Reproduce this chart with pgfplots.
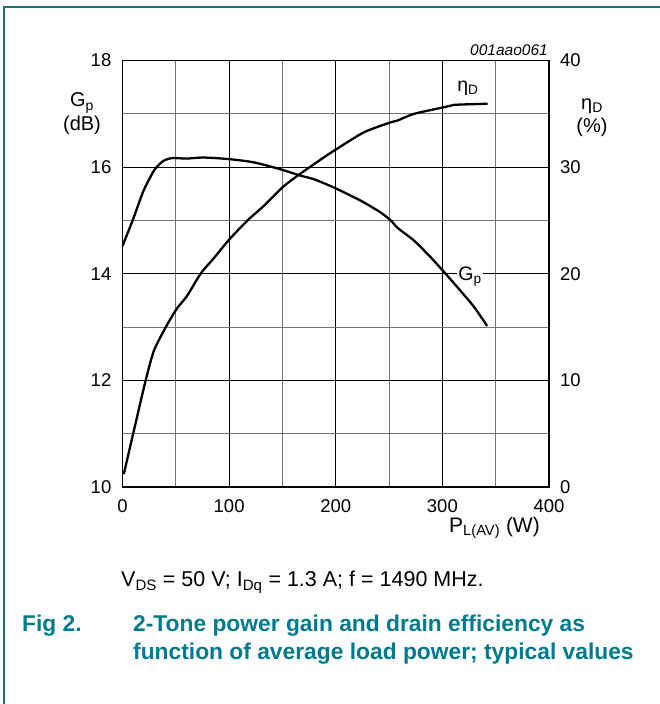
\documentclass[border=0pt]{standalone}
\usepackage{fontspec}
\setmainfont{Liberation Sans}
\usepackage{pgfplots}
\pgfplotsset{compat=1.18}
\definecolor{capteal}{RGB}{0,122,140}
\definecolor{frameteal}{RGB}{30,108,128}
\pgfplotstableread{
P G
0 14.52
9.5 15.0
19.8 15.56
30 15.95
38.6 16.12
47 16.17
60 16.16
76 16.18
100 16.15
123 16.09
148 15.96
167 15.84
180 15.77
199 15.61
223.5 15.37
242 15.15
251.6 15.0
258 14.86
273.5 14.62
289 14.31
301.7 14.03
317 13.68
330 13.37
342 13.02
}\gpdata
\pgfplotstableread{
P E
1.2 1.2
10.6 5.26
21.6 9.95
29.4 12.77
40.4 14.96
50.7 16.69
60.6 17.93
73.2 20.0
86 21.5
100 23.2
117 24.98
132.7 26.38
150 28.1
165.6 29.3
184.3 30.6
198.5 31.55
226.5 33.27
251.6 34.2
258 34.37
273.5 35.0
301.7 35.62
311 35.84
342.4 35.94
}\etadata
\begin{document}
\begin{tikzpicture}[x=1bp,y=1bp]
\path[use as bounding box] (0,0) rectangle (660,704);
\draw[frameteal, line width=1.5bp] (4,0) -- (4,697) -- (660,697);
\pgfplotsset{
  common/.style={
    at={(122.5bp,217bp)}, anchor=south west, scale only axis,
    width=426.5bp, height=426.5bp,
    xmin=0, xmax=400,
    major tick length=0, minor tick length=0,
    axis line style={line width=1.2bp},
    tick label style={font=\fontsize{18.5bp}{18.5bp}\selectfont, /pgf/number format/assume math mode=true, inner sep=0pt},
  }
}
\begin{axis}[common,
  ymin=10, ymax=18,
  xtick={0,100,200,300,400}, minor xtick={50,150,250,350},
  ytick={10,12,14,16,18}, minor ytick={11,13,15,17},
  grid=both,
  major grid style={black, line width=1.1bp},
  minor grid style={black!55, line width=1.1bp},
  xticklabel style={yshift=-12bp},
  yticklabel style={xshift=-11bp},
  axis y line*=left,
]
\node[fill=white, inner sep=1bp, font=\fontsize{19.5bp}{19.5bp}\selectfont] at (axis cs:326,13.95) {G\textsubscript{p}};
\node[font=\fontsize{19.5bp}{19.5bp}\selectfont] at (axis cs:324,17.48) {η\textsubscript{D}};
\addplot[black, line width=2.3bp, smooth, tension=0.4] table[x=P,y=G]{\gpdata};
\end{axis}
\begin{axis}[common,
  ymin=0, ymax=40,
  ytick={0,10,20,30,40},
  axis y line*=right, axis x line=none,
  yticklabel style={xshift=11bp},
]
\addplot[black, line width=2.3bp, smooth, tension=0.4] table[x=P,y=E]{\etadata};
\end{axis}
\draw[black, line width=1.2bp] (122.5,217) rectangle (549,643.5);
\node[anchor=east, font=\itshape\fontsize{15.5bp}{15.5bp}\selectfont, inner sep=0pt] at (548,654) {001aao061};
\node[font=\fontsize{20bp}{20bp}\selectfont, inner sep=0pt] at (82,601) {G\textsubscript{p}};
\node[font=\fontsize{20bp}{20bp}\selectfont, inner sep=0pt] at (82,579) {(dB)};
\node[font=\fontsize{20bp}{20bp}\selectfont, inner sep=0pt] at (592,598) {η\textsubscript{D}};
\node[font=\fontsize{20bp}{20bp}\selectfont, inner sep=0pt] at (592,577) {(\%)};
\node[anchor=east, font=\fontsize{21bp}{21bp}\selectfont, inner sep=0pt] at (540,176) {P\textsubscript{L(AV)} (W)};
\node[anchor=base west, font=\fontsize{21.5bp}{21.5bp}\selectfont, inner sep=0pt] at (121,117) {V\textsubscript{DS} = 50 V; I\textsubscript{Dq} = 1.3 A; f = 1490 MHz.};
\node[anchor=base west, font=\bfseries\fontsize{22.8bp}{22.8bp}\selectfont, text=capteal, inner sep=0pt] at (22,72) {Fig 2.};
\node[anchor=base west, font=\bfseries\fontsize{22.8bp}{22.8bp}\selectfont, text=capteal, inner sep=0pt] at (133,72) {2-Tone power gain and drain efficiency as};
\node[anchor=base west, font=\bfseries\fontsize{22.8bp}{22.8bp}\selectfont, text=capteal, inner sep=0pt] at (133,44) {function of average load power; typical values};
\end{tikzpicture}
\end{document}
